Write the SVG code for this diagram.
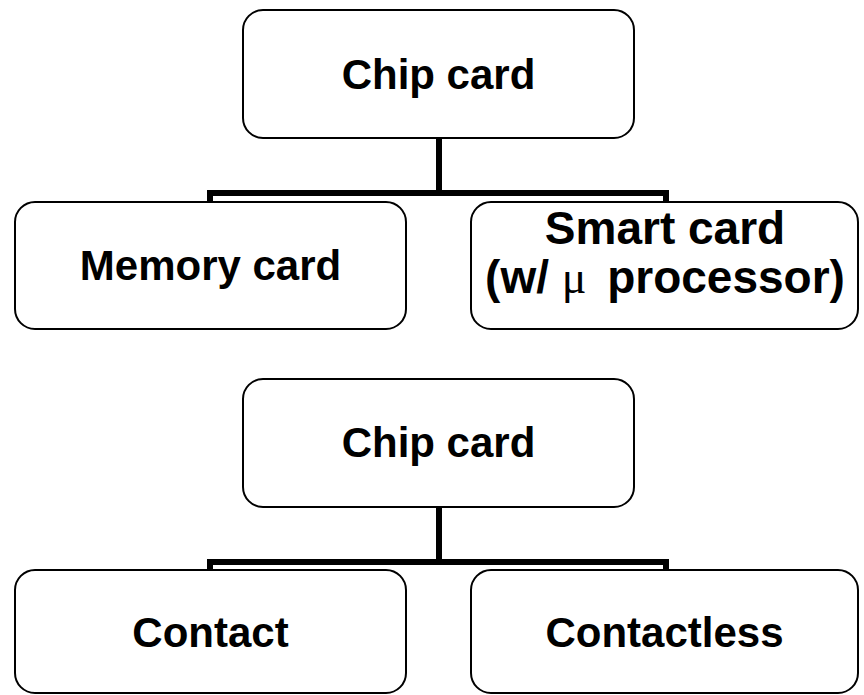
<svg xmlns="http://www.w3.org/2000/svg" width="864" height="695" viewBox="0 0 864 695">
<style>
.box{fill:#fff;stroke:#000;stroke-width:2}
.lbl{font-family:"Liberation Sans",Arial,sans-serif;font-weight:bold;font-size:42px;fill:#000;text-anchor:middle}
.big{font-size:46px}
.mu{font-family:"Liberation Serif","Times New Roman",serif;font-weight:normal}
.conn{fill:none;stroke:#000;stroke-width:6;stroke-linejoin:miter}
</style>
<rect width="864" height="695" fill="#fff"/>
<g id="connectors">
<path class="conn" d="M439,138 V193 M210,202 V193 H666 V202"/>
<path class="conn" d="M439,507 V562 M210,570 V562 H666 V570"/>
</g>
<g id="chip1">
<rect class="box" x="243" y="10" width="391" height="128" rx="20"/>
<text class="lbl" x="438.5" y="89">Chip card</text>
</g>
<g id="memory">
<rect class="box" x="15" y="202" width="391" height="127" rx="20"/>
<text class="lbl" x="210.5" y="280">Memory card</text>
</g>
<g id="smart">
<rect class="box" x="471" y="202" width="387" height="127" rx="20"/>
<text class="lbl big" x="665" y="244">Smart card</text>
<text class="lbl big" x="665" y="293">(w/ <tspan class="mu">μ</tspan><tspan dx="8"> processor)</tspan></text>
</g>
<g id="chip2">
<rect class="box" x="243" y="379" width="391" height="128" rx="20"/>
<text class="lbl" x="438.5" y="457">Chip card</text>
</g>
<g id="contact">
<rect class="box" x="15" y="570" width="391" height="123" rx="20"/>
<text class="lbl" x="210.5" y="647">Contact</text>
</g>
<g id="contactless">
<rect class="box" x="471" y="570" width="387" height="123" rx="20"/>
<text class="lbl" x="664.5" y="647">Contactless</text>
</g>
</svg>
